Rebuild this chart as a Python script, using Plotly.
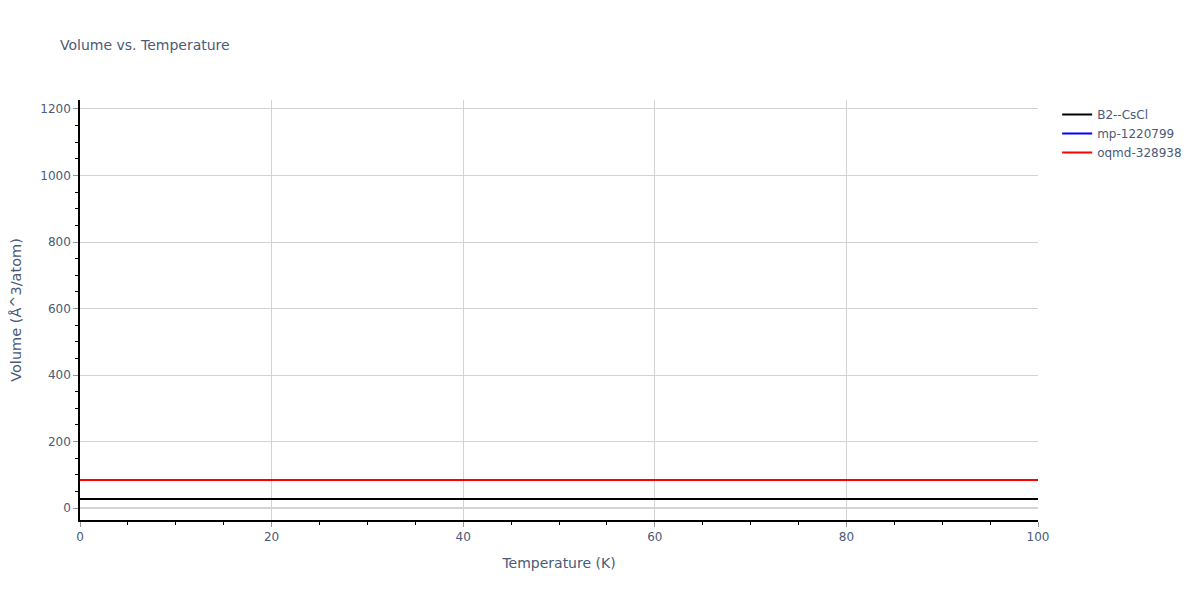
import plotly.graph_objs as go

temperatures = [0, 10, 20, 30, 40, 50, 60, 70, 80, 90, 100]
vol_b2_cscl = [27.5] * 11
vol_mp_1220799 = [84.5] * 11
vol_oqmd_328938 = [84.5] * 11

series = [
    ('B2--CsCl', vol_b2_cscl, 'black'),
    ('mp-1220799', vol_mp_1220799, 'blue'),
    ('oqmd-328938', vol_oqmd_328938, 'red'),
]

fig = go.Figure()
for nome, valores, cor in series:
    fig.add_trace(go.Scatter(x=temperatures, y=valores, mode='lines', name=nome,
                             line=dict(color=cor, width=2)))

eixo = dict(showline=True, linecolor='black', linewidth=1.5, ticks='outside',
            tickcolor='#999', gridcolor='lightgrey', zeroline=True,
            zerolinecolor='lightgrey', zerolinewidth=2, automargin=False,
            tickfont=dict(size=12), title_font=dict(size=14))

# margens compensam os 8px do body da pagina
fig.update_layout(
    template='plotly_white',
    width=1200, height=600,
    font=dict(family='Verdana, DejaVu Sans, sans-serif', color='#4a5a78'),
    margin=dict(l=72, r=170, t=92, b=88),
    title=dict(text='Volume vs. Temperature', font=dict(size=14),
               x=52 / 1200, y=1 - 37 / 600, yanchor='middle'),
    legend=dict(font=dict(size=12)),
    xaxis=dict(title='Temperature (K)', range=[0, 100], dtick=20,
               minor=dict(ticks='outside', dtick=5, tickcolor='black'), **eixo),
    yaxis=dict(title=dict(text='Volume (Å^3/atom)', font=dict(size=14.5)),
               range=[-36, 1227], dtick=200,
               minor=dict(ticks='outside', dtick=50, tickcolor='black'),
               **{k: v for k, v in eixo.items() if k != 'title_font'}),
)
fig.write_html('out.html')
